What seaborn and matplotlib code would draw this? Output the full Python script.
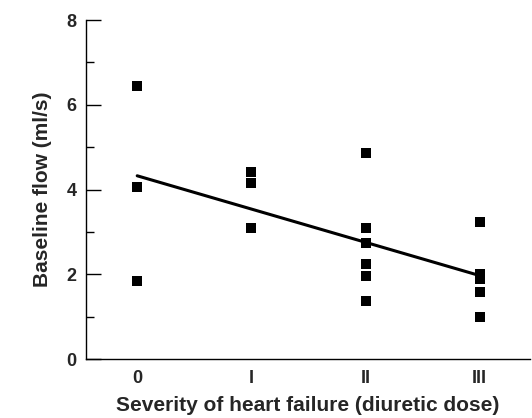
import pandas as pd
import numpy as np
import matplotlib
matplotlib.use('Agg')
import matplotlib.pyplot as plt
import seaborn as sns

# Values
severity = [0, 0, 0,
            1, 1, 1,
            2, 2, 2, 2, 2, 2,
            3, 3, 3, 3, 3]
flow = [6.45, 4.07, 1.85,
        4.42, 4.15, 3.1,
        4.86, 3.09, 2.73, 2.24, 1.96, 1.37,
        3.23, 2.0, 1.89, 1.58, 0.99]
tick_pos = [0, 1, 2, 3]
tick_labels = ['0', 'I', 'II', 'III']

df = pd.DataFrame({'severity': severity, 'flow': flow})

sns.set_style('white')
plt.rcParams['font.family'] = ['Liberation Sans', 'DejaVu Sans']
plt.rcParams['font.weight'] = 'bold'

fig = plt.figure(figsize=(5.32, 4.18), dpi=100)
ax = fig.add_axes([0.162, 0.141, 0.834, 0.811])

# scatter + least squares line
sns.regplot(data=df, x='severity', y='flow', ax=ax, ci=None, truncate=True,
            marker='s',
            scatter_kws={'s': 50, 'color': 'black', 'linewidths': 0, 'alpha': 1},
            line_kws={'color': 'black', 'lw': 2.2})

ax.set_xlim(-0.447, 3.44)
ax.set_ylim(0, 8)
ax.set_xticks(tick_pos)
ax.set_xticklabels(tick_labels)
ax.set_yticks([0, 2, 4, 6, 8])
ax.set_yticks([1, 3, 5, 7], minor=True)

for side in ['top', 'right']:
    ax.spines[side].set_visible(False)
for side in ['left', 'bottom']:
    ax.spines[side].set_color('black')
    ax.spines[side].set_linewidth(1.0)

ax.tick_params(axis='y', which='major', direction='in', length=11, width=1,
               color='black', pad=7, labelsize=13, left=True)
ax.tick_params(axis='y', which='minor', direction='in', length=6, width=1,
               color='black', left=True)
ax.tick_params(axis='x', length=0, pad=8, labelsize=13)

ax.set_xlabel('Severity of heart failure (diuretic dose)', fontsize=15,
              fontweight='bold', labelpad=6)
ax.set_ylabel('Baseline flow (ml/s)', fontsize=15, fontweight='bold', labelpad=10)

plt.savefig('out.png', dpi=100)
